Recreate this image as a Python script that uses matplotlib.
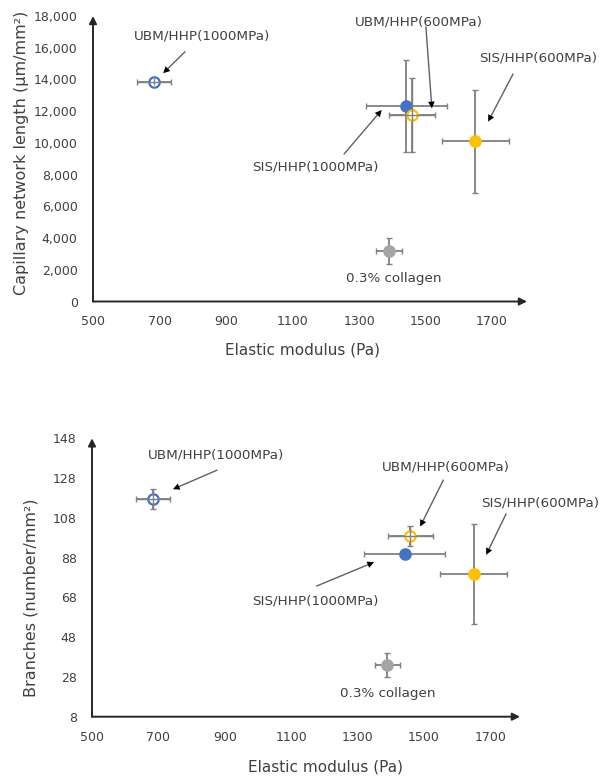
import matplotlib
matplotlib.use("Agg")
import matplotlib.pyplot as plt
from matplotlib.ticker import FuncFormatter

plt.rcParams["font.family"] = ["DejaVu Sans"]

# samples, in drawing order
grupos = ["UBM/HHP(1000MPa)", "SIS/HHP(1000MPa)", "UBM/HHP(600MPa)", "SIS/HHP(600MPa)", "0.3% collagen"]
cores = ["#4472C4", "#4472C4", "#FFC000", "#FFC000", "#A5A5A5"]
aberto = [True, False, True, False, False]

# elastic modulus (Pa), same for both panels
modulo = [684, 1442, 1459, 1650, 1390]
modulo_err = [52, 122, 68, 101, 38]

# capillary network length (um/mm2)
comprimento = [13860, 12330, 11760, 10100, 3200]
comprimento_err = [200, 2900, 2320, 3230, 830]

# branches (number/mm2)
ramos = [117.5, 89.7, 99.0, 79.8, 34.0]
ramos_err = [5, 0.8, 5, 25, 6]

cor_texto = "#404040"

# label position, arrow start, arrow end (data coords) per group
anot_topo = {
    "UBM/HHP(1000MPa)": ((828, 16740), (777, 15750), (711, 14390)),
    "SIS/HHP(1000MPa)": ((1168, 8460), (1255, 9300), (1368, 12075)),
    "UBM/HHP(600MPa)": ((1480, 17640), (1501, 17310), (1519, 12180)),
    "SIS/HHP(600MPa)": ((1840, 15350), (1763, 14340), (1688, 11340)),
    "0.3% collagen": ((1405, 1420), None, None),
}
anot_baixo = {
    "UBM/HHP(1000MPa)": ((875, 139.6), (877, 132), (744, 122.4)),
    "SIS/HHP(1000MPa)": ((1173, 66.4), (1177, 73.7), (1350, 85.7)),
    "UBM/HHP(600MPa)": ((1566, 133.8), (1559, 127.0), (1489, 103.6)),
    "SIS/HHP(600MPa)": ((1850, 115.3), (1748, 110), (1688, 89.4)),
    "0.3% collagen": ((1392, 19.8), None, None),
}


def painel(ax, yv, yerr, anot, xmax, ylim, yticks, fmt):
    for i in range(len(grupos)):
        ax.errorbar(modulo[i], yv[i], xerr=modulo_err[i], yerr=yerr[i], fmt="none",
                    ecolor="#808080", elinewidth=1.3, capsize=2.5, capthick=1.0, zorder=2)
        face = "white" if aberto[i] else cores[i]
        ax.plot(modulo[i], yv[i], "o", ms=7.5, mfc=face, mec=cores[i], mew=1.6, zorder=3)
        if aberto[i]:
            # error bars visible through the open marker
            ax.errorbar(modulo[i], yv[i], xerr=modulo_err[i], yerr=yerr[i], fmt="none",
                        ecolor="#808080", elinewidth=1.0, capsize=0, zorder=4)

    for nome, (pos, ini, fim) in anot.items():
        ax.text(pos[0], pos[1], nome, ha="center", va="center", fontsize=9.7,
                color=cor_texto, clip_on=False)
        if ini is not None:
            # gray shaft, black head
            ax.annotate("", xy=fim, xytext=ini, annotation_clip=False,
                        arrowprops=dict(arrowstyle="-", color="#606060", lw=1.0,
                                        shrinkA=0, shrinkB=4))
            ax.annotate("", xy=fim, xytext=ini, annotation_clip=False,
                        arrowprops=dict(arrowstyle="-|>", color="black", lw=0,
                                        mutation_scale=12, shrinkA=0, shrinkB=0))

    ax.set_xlim(500, xmax)
    ax.set_ylim(*ylim)
    ax.set_xticks([500, 700, 900, 1100, 1300, 1500, 1700])
    ax.set_yticks(yticks)
    ax.yaxis.set_major_formatter(FuncFormatter(fmt))
    ax.tick_params(length=0, labelsize=9, labelcolor=cor_texto)
    ax.tick_params(axis="x", pad=10)
    ax.tick_params(axis="y", pad=11)
    for s in ax.spines.values():
        s.set_visible(False)
    # axes drawn as arrows
    seta = dict(arrowstyle="-|>", color="#262626", lw=1.4, mutation_scale=11, shrinkA=0, shrinkB=0)
    ax.annotate("", xy=(0, 1.0), xytext=(0, 0), xycoords="axes fraction", arrowprops=seta)
    ax.annotate("", xy=(1.0, 0), xytext=(0, 0), xycoords="axes fraction", arrowprops=seta)


fig = plt.figure(figsize=(6.03, 7.78), dpi=100)

ax1 = fig.add_axes([93 / 603, 1 - 301.5 / 778, 434 / 603, 285.5 / 778])
painel(ax1, comprimento, comprimento_err, anot_topo, 1805, (0, 18000),
       range(0, 18001, 2000), lambda v, p: f"{int(v):,}")
fig.text(302 / 603, 1 - 350 / 778, "Elastic modulus (Pa)", ha="center", va="center",
         fontsize=11, color=cor_texto)
fig.text(22 / 603, 1 - 153 / 778, "Capillary network length (μm/mm²)", rotation=90,
         ha="center", va="center", fontsize=11.5, color=cor_texto)

ax2 = fig.add_axes([92 / 603, 1 - 716.7 / 778, 428 / 603, 278.4 / 778])
painel(ax2, ramos, ramos_err, anot_baixo, 1790, (8, 148),
       range(8, 149, 20), lambda v, p: f"{int(v)}")
fig.text(325 / 603, 1 - 767 / 778, "Elastic modulus (Pa)", ha="center", va="center",
         fontsize=11, color=cor_texto)
fig.text(31 / 603, 1 - 598 / 778, "Branches (number/mm²)", rotation=90,
         ha="center", va="center", fontsize=11.5, color=cor_texto)

fig.savefig("out.png", dpi=100)
plt.close(fig)
